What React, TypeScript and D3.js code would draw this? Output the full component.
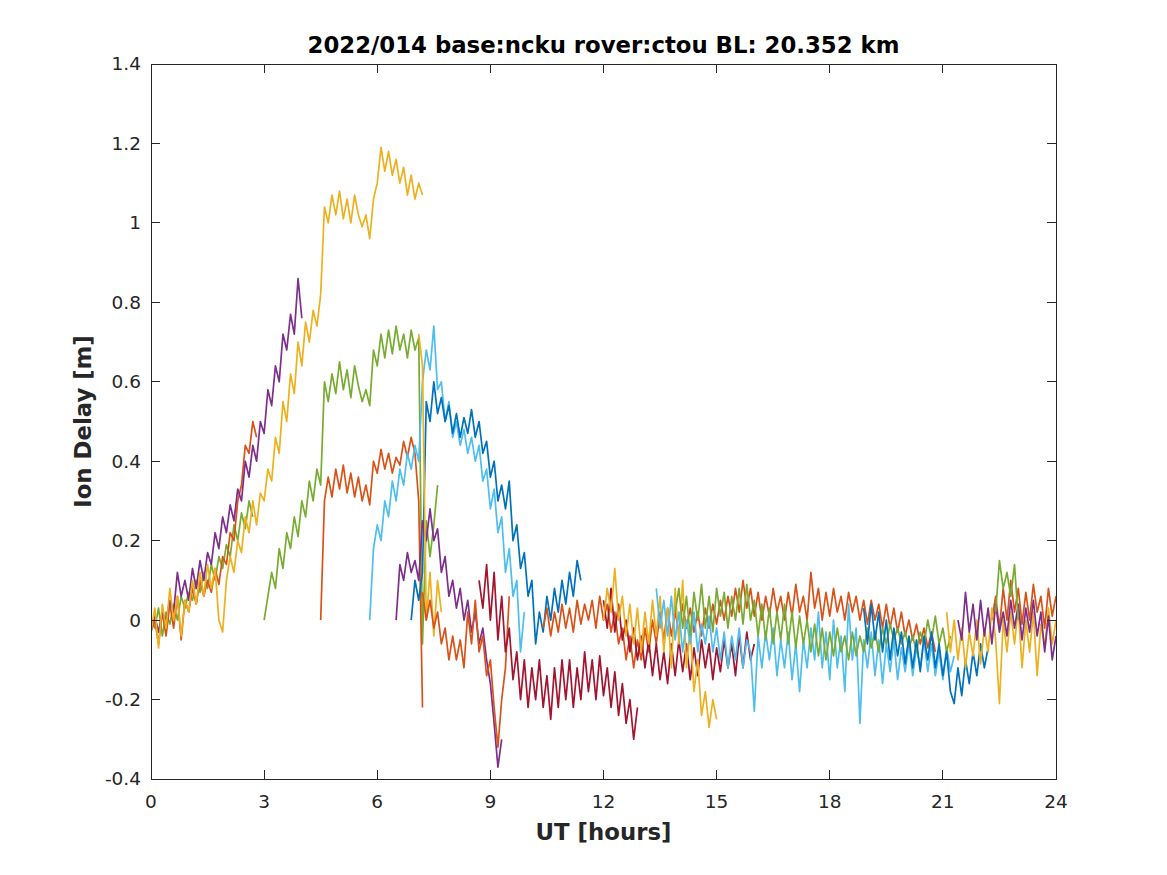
import * as d3 from "d3"

// MATLAB default line colours
const C = {
  blue: "#0072BD",
  orange: "#D95319",
  yellow: "#EDB120",
  purple: "#7E2F8E",
  green: "#77AC30",
  lightBlue: "#4DBEEE",
  darkRed: "#A2142F",
}

const title = "2022/014 base:ncku rover:ctou BL: 20.352 km"
const xTicks = [0, 3, 6, 9, 12, 15, 18, 21, 24]
const yTicks = [-0.4, -0.2, 0, 0.2, 0.4, 0.6, 0.8, 1, 1.2, 1.4]

// every arc is sampled every 0.1 h from its start hour
const STEP = 0.1

const greenA = [0.0, -0.02, 0.03, -0.04, 0.02, -0.01, 0.04, 0.0, 0.06, 0.03, 0.07, 0.05, 0.1, 0.07, 0.12, 0.08, 0.14, 0.1, 0.16, 0.13, 0.19, 0.16, 0.24, 0.2, 0.27, 0.23, 0.3, 0.26]
const orangeA = [-0.03, 0.0, -0.06, 0.02, -0.04, 0.04, -0.02, 0.06, -0.05, 0.05, 0.02, 0.08, 0.04, 0.1, 0.06, 0.1, 0.07, 0.13, 0.09, 0.16, 0.14, 0.22, 0.2, 0.3, 0.34, 0.44, 0.42, 0.5, 0.46]
const purpleA = [-0.02, 0.01, -0.03, 0.02, 0.0, 0.05, 0.02, 0.12, 0.06, 0.1, 0.05, 0.13, 0.08, 0.15, 0.1, 0.17, 0.14, 0.22, 0.18, 0.26, 0.22, 0.29, 0.25, 0.33, 0.3, 0.4, 0.36, 0.44, 0.4, 0.5, 0.47, 0.58, 0.54, 0.64, 0.6, 0.72, 0.68, 0.77, 0.72, 0.86, 0.76]
const yellowA = [-0.03, 0.03, -0.07, 0.04, -0.02, 0.08, 0.0, 0.06, -0.04, 0.05, 0.02, 0.1, 0.04, 0.12, 0.06, 0.14, 0.08, 0.13, 0.0, -0.03, 0.1, 0.16, 0.12, 0.2, 0.17, 0.26, 0.22, 0.3, 0.24, 0.32, 0.3, 0.38, 0.35, 0.46, 0.42, 0.55, 0.5, 0.62, 0.57, 0.7, 0.64, 0.75, 0.7, 0.78, 0.74, 0.82, 1.04, 1.0, 1.07, 1.02, 1.08, 1.01, 1.06, 1.0, 1.07, 1.02, 0.99, 1.02, 0.96, 1.06, 1.1, 1.19, 1.13, 1.18, 1.12, 1.16, 1.1, 1.14, 1.07, 1.12, 1.06, 1.1, 1.07]
const greenB = [0.0, 0.06, 0.12, 0.08, 0.18, 0.13, 0.22, 0.18, 0.26, 0.21, 0.3, 0.26, 0.35, 0.3, 0.38, 0.34, 0.6, 0.55, 0.62, 0.57, 0.65, 0.58, 0.63, 0.56, 0.64, 0.59, 0.55, 0.58, 0.54, 0.68, 0.64, 0.72, 0.66, 0.73, 0.67, 0.74, 0.68, 0.72, 0.66, 0.73, 0.68, 0.71, -0.06, 0.25, 0.16, 0.24, 0.34]
const orangeB = [0.0, 0.3, 0.36, 0.31, 0.38, 0.33, 0.39, 0.32, 0.37, 0.31, 0.36, 0.3, 0.34, 0.29, 0.4, 0.37, 0.43, 0.38, 0.42, 0.37, 0.41, 0.39, 0.45, 0.41, 0.46, 0.42, 0.3, -0.22]
const lightBlueA = [0.0, 0.18, 0.24, 0.2, 0.3, 0.26, 0.35, 0.3, 0.38, 0.34, 0.42, 0.38, 0.44, 0.4, 0.6, 0.68, 0.63, 0.74, 0.58, 0.6, 0.5, 0.55, 0.46, 0.5, 0.44, 0.48, 0.42, 0.46, 0.4, 0.44, 0.35, 0.38, 0.28, 0.33, 0.22, 0.26, 0.12, 0.18, 0.06, 0.1, -0.08, 0.02]
const blueA = [0.0, 0.1, 0.05, 0.12, 0.55, 0.5, 0.6, 0.52, 0.56, 0.5, 0.54, 0.47, 0.52, 0.46, 0.51, 0.47, 0.53, 0.46, 0.5, 0.42, 0.45, 0.36, 0.4, 0.3, 0.34, 0.28, 0.35, 0.2, 0.24, 0.13, 0.17, 0.06, 0.1, -0.06, 0.02, -0.03, 0.06, 0.0, 0.08, 0.02, 0.1, 0.04, 0.12, 0.06, 0.15, 0.1]
const purpleB = [0.0, 0.14, 0.1, 0.17, 0.12, 0.15, 0.1, 0.25, 0.2, 0.28, 0.2, 0.23, 0.12, 0.16, 0.06, 0.1, 0.03, 0.08, 0.0, 0.05, -0.03, 0.02, -0.06, -0.02, -0.1, -0.16, -0.26, -0.37, -0.3]
const yellowB = [0.72, 0.64, 0.0, 0.12, -0.04, 0.1, 0.02]
const orangeC = [0.07, 0.0, 0.05, -0.02, 0.02, -0.06, -0.02, -0.1, -0.04, -0.1, -0.05, -0.12, 0.02, -0.06, 0.05, -0.08, -0.04, -0.14, -0.1, -0.22, -0.32, -0.2, -0.12, 0.06]
const darkRedA = [0.1, 0.03, 0.14, 0.0, 0.12, -0.05, 0.06, -0.08, -0.02, -0.15, -0.08, -0.2, -0.1, -0.22, -0.12, -0.2, -0.1, -0.22, -0.14, -0.25, -0.12, -0.22, -0.1, -0.2, -0.1, -0.22, -0.12, -0.2, -0.08, -0.18, -0.1, -0.2, -0.09, -0.19, -0.12, -0.22, -0.13, -0.24, -0.16, -0.26, -0.2, -0.3, -0.22]
const orangeD = [-0.02, 0.03, -0.04, 0.02, -0.03, 0.04, -0.02, 0.03, -0.03, 0.05, -0.01, 0.04, 0.0, 0.05, -0.02, 0.06, 0.0, 0.04, -0.03, 0.02, -0.06, -0.02, -0.1, -0.04, -0.12, -0.05, -0.1, -0.02, -0.08, 0.0, -0.06, 0.02, -0.05, 0.03, -0.04, 0.02, -0.03, 0.04, -0.02, 0.03, -0.03, 0.02, -0.04, 0.03, -0.02, 0.04, -0.01, 0.05, 0.0, 0.06, 0.01, 0.08, 0.02, 0.1, 0.03, 0.08, 0.01, 0.07, 0.0, 0.06, 0.01, 0.08, 0.02, 0.06, 0.0, 0.07, 0.01, 0.09, 0.02, 0.06, 0.0, 0.12, 0.03, 0.08, 0.0, 0.07, 0.01, 0.08, 0.02, 0.06, 0.0, 0.07, 0.02, 0.06, 0.0, 0.05, -0.01, 0.05, 0.0, 0.04, -0.02, 0.04, -0.02, 0.03, -0.03, 0.02, -0.04, 0.0, -0.05, -0.01, -0.06, -0.02, -0.07, -0.03, -0.08]
const darkRedB = [0.05, -0.02, 0.08, -0.03, 0.04, -0.05, 0.0, -0.08, -0.02, -0.1, -0.04, -0.12, -0.05, -0.14, -0.06, -0.15, -0.08, -0.16, -0.06, -0.14, -0.05, -0.13, -0.06, -0.15, -0.07, -0.14, -0.05, -0.12, -0.06, -0.15, -0.07, -0.13, -0.05, -0.12, -0.06, -0.14, -0.04, -0.12, -0.03, -0.1, -0.06]
const yellowC = [0.0, 0.08, 0.02, 0.13, 0.0, 0.06, -0.04, 0.04, -0.06, 0.03, -0.08, 0.02, -0.06, 0.05, -0.04, 0.06, -0.08, 0.03, -0.12, 0.08, -0.06, 0.1, -0.12, -0.02, -0.18, -0.1, -0.24, -0.18, -0.27, -0.2, -0.25]
const lightBlueB = [0.08, -0.02, 0.05, -0.04, 0.06, -0.05, 0.02, -0.08, 0.0, -0.06, 0.02, -0.08, -0.01, -0.06, 0.01, -0.08, -0.02, -0.1, -0.03, -0.12, -0.04, -0.1, -0.02, -0.12, -0.05, -0.08, -0.23, -0.04, -0.12, -0.03, -0.1, -0.02, -0.14, -0.05, -0.12, -0.03, -0.15, -0.06, -0.18, -0.05, -0.12, -0.02, -0.1, 0.02, -0.12, -0.03, -0.15, 0.0, -0.12, -0.04, -0.18, 0.04, -0.1, -0.02, -0.26, -0.05, -0.12, -0.03, -0.14, -0.05, -0.16, -0.06, -0.13, -0.05, -0.15, -0.07, -0.13, -0.06, -0.14, -0.07, -0.12, -0.05, -0.13, -0.06, -0.14, -0.08, -0.15, -0.07, -0.13, -0.09]
const greenC = [0.02, 0.08, -0.02, 0.06, -0.04, 0.07, 0.0, 0.09, -0.02, 0.06, -0.03, 0.08, 0.01, 0.07, -0.02, 0.06, 0.0, 0.08, -0.01, 0.09, 0.0, 0.05, -0.04, 0.04, -0.05, 0.03, -0.06, 0.02, -0.05, 0.04, -0.06, 0.02, -0.07, 0.01, -0.06, 0.0, -0.08, -0.01, -0.09, -0.02, -0.1, -0.03, -0.09, -0.02, -0.08, -0.04, -0.1, -0.03, -0.09, -0.04, -0.08, -0.02, -0.07, -0.03, -0.08, -0.02, -0.06, -0.01, -0.05, -0.02, -0.06, -0.03, -0.07, -0.04, -0.08, -0.03, -0.06, 0.0, -0.05, 0.01, -0.06, -0.02, -0.08, -0.04]
const blueB = [0.03, -0.06, 0.04, -0.05, 0.02, -0.08, 0.0, -0.1, -0.02, -0.09, -0.03, -0.11, -0.04, -0.12, -0.05, -0.13, -0.04, -0.1, -0.03, -0.12, -0.06, -0.14, -0.08, -0.18, -0.21, -0.12, -0.19, -0.1, -0.16, -0.08, -0.14, -0.06, -0.12, -0.07]
const orangeE = [0.0, 0.06, -0.02, 0.08, 0.0, 0.1, 0.02, 0.08, -0.01, 0.07, 0.0, 0.09, 0.02, 0.06, -0.02, 0.08, 0.01, 0.06]
const yellowD = [0.02, -0.08, 0.0, -0.1, -0.02, -0.12, -0.03, -0.09, 0.0, -0.11, -0.02, -0.08, 0.03, -0.05, -0.21, 0.0, -0.08, 0.02, -0.06, 0.03, -0.12, 0.0, -0.08, 0.02, -0.14, -0.01, -0.07, 0.03, -0.06, 0.0]
const purpleC = [0.0, -0.05, 0.07, -0.03, 0.04, -0.05, 0.05, -0.04, 0.03, -0.06, 0.04, -0.03, 0.02, -0.04, 0.05, -0.02, 0.04, -0.05, 0.03, -0.03, 0.05, -0.04, 0.02, -0.08, 0.01, -0.1, -0.04]
const greenD = [0.02, 0.15, 0.08, 0.12, 0.06, 0.14, 0.0]

// drawing order: later arcs lie on top
const arcs: { color: string; start: number; values: number[] }[] = [
  { color: C.green, start: 0, values: greenA },
  { color: C.orange, start: 0, values: orangeA },
  { color: C.purple, start: 0, values: purpleA },
  { color: C.yellow, start: 0, values: yellowA },
  { color: C.green, start: 3.0, values: greenB },
  { color: C.orange, start: 4.5, values: orangeB },
  { color: C.lightBlue, start: 5.8, values: lightBlueA },
  { color: C.blue, start: 6.9, values: blueA },
  { color: C.purple, start: 6.5, values: purpleB },
  { color: C.yellow, start: 7.1, values: yellowB },
  { color: C.orange, start: 7.2, values: orangeC },
  { color: C.darkRed, start: 8.7, values: darkRedA },
  { color: C.orange, start: 10.4, values: orangeD },
  { color: C.darkRed, start: 12.0, values: darkRedB },
  { color: C.yellow, start: 12.0, values: yellowC },
  { color: C.lightBlue, start: 13.4, values: lightBlueB },
  { color: C.green, start: 13.9, values: greenC },
  { color: C.blue, start: 18.9, values: blueB },
  { color: C.orange, start: 22.3, values: orangeE },
  { color: C.yellow, start: 21.1, values: yellowD },
  { color: C.purple, start: 21.4, values: purpleC },
  { color: C.green, start: 22.4, values: greenD },
]

const W = 1167
const H = 875
const margin = { top: 64, right: 111, bottom: 96, left: 151 }
const AX = "#262626"
const FONT = "'DejaVu Sans', sans-serif"

export default function App() {
  const x = d3.scaleLinear().domain([0, 24]).range([margin.left, W - margin.right])
  const y = d3.scaleLinear().domain([-0.4, 1.4]).range([H - margin.bottom, margin.top])
  const [x0, x1] = x.range()
  const [y0, y1] = y.range()

  const line = d3.line<number>()

  const tickLen = 9

  return (
    <svg width={W} height={H} style={{ position: "absolute", left: 0, top: 0, background: "#fff" }}>
      <defs>
        <clipPath id="plot">
          <rect x={x0} y={y1} width={x1 - x0} height={y0 - y1} />
        </clipPath>
      </defs>
      <rect x={0} y={0} width={W} height={H} fill="#fff" />

      <g clipPath="url(#plot)">
        {arcs.map((a, i) => {
          const pts = a.values.map((v, k) => [x(a.start + k * STEP), y(v)] as [number, number])
          return (
            <path key={i} d={line(pts) ?? ""} fill="none" stroke={a.color} strokeWidth={1.7} strokeLinejoin="round" />
          )
        })}
      </g>

      {/* box */}
      <rect x={x0} y={y1} width={x1 - x0} height={y0 - y1} fill="none" stroke={AX} strokeWidth={1} shapeRendering="crispEdges" />

      {/* x ticks */}
      {xTicks.map((t) => (
        <g key={"x" + t}>
          <line x1={x(t)} x2={x(t)} y1={y0} y2={y0 - tickLen} stroke={AX} shapeRendering="crispEdges" />
          <line x1={x(t)} x2={x(t)} y1={y1} y2={y1 + tickLen} stroke={AX} shapeRendering="crispEdges" />
          <text x={x(t)} y={y0 + 29} textAnchor="middle" fontFamily={FONT} fontSize={18.5} fill={AX}>
            {t}
          </text>
        </g>
      ))}

      {/* y ticks */}
      {yTicks.map((t) => (
        <g key={"y" + t}>
          <line x1={x0} x2={x0 + tickLen} y1={y(t)} y2={y(t)} stroke={AX} shapeRendering="crispEdges" />
          <line x1={x1} x2={x1 - tickLen} y1={y(t)} y2={y(t)} stroke={AX} shapeRendering="crispEdges" />
          <text x={x0 - 10} y={y(t)} dy="0.35em" textAnchor="end" fontFamily={FONT} fontSize={18.5} fill={AX}>
            {`${+t.toFixed(1)}`}
          </text>
        </g>
      ))}

      <text x={(x0 + x1) / 2} y={53} textAnchor="middle" fontFamily={FONT} fontWeight="bold" fontSize={22.8} fill="#000">
        {title}
      </text>
      <text x={(x0 + x1) / 2} y={840} textAnchor="middle" fontFamily={FONT} fontWeight="bold" fontSize={22.8} fill={AX}>
        UT [hours]
      </text>
      <text
        transform={`translate(91,${(y0 + y1) / 2}) rotate(-90)`}
        textAnchor="middle"
        fontFamily={FONT}
        fontWeight="bold"
        fontSize={22.8}
        fill={AX}
      >
        Ion Delay [m]
      </text>
    </svg>
  )
}
